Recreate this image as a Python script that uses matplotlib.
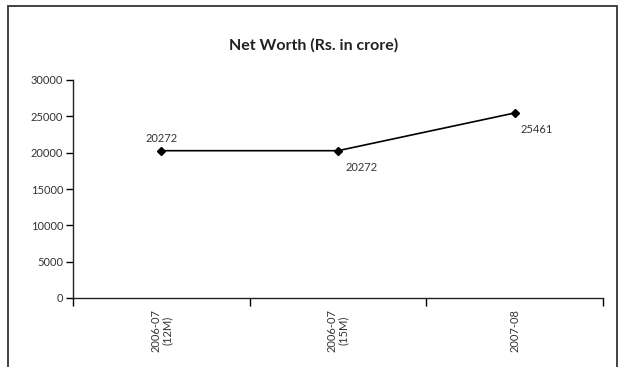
import matplotlib.pyplot as plt
from matplotlib.patches import Rectangle

# Net worth by period (Rs. in crore)
periods = ["2006-07\n(12M)", "2006-07\n(15M)", "2007-08"]
net_worth = [20272, 20272, 25461]
y_ticks = [0, 5000, 10000, 15000, 20000, 25000, 30000]

plt.rcParams["font.family"] = ["Lato", "DejaVu Sans"]

fig = plt.figure(figsize=(6.21, 3.67), dpi=100)
ax = fig.add_axes([73 / 621, 1 - 298 / 367, 530 / 621, 218 / 367])

xpos = [i + 0.5 for i in range(len(periods))]
ax.plot(xpos, net_worth, color="black", lw=1.2, marker="D", ms=4.5, mfc="black", mec="black")

# value labels: first above the point, the others below-right
offsets = [(0, 5, "center", "bottom"), (17, -8, "center", "top"), (16, -8, "center", "top")]
for x, v, (dx, dy, ha, va) in zip(xpos, net_worth, offsets):
    ax.annotate(f"{v}", (x, v), xytext=(dx, dy), textcoords="offset points",
                ha=ha, va=va, fontsize=8, color="#333333")

ax.set_xlim(0, len(periods))
ax.set_ylim(0, 30000)
ax.set_yticks(y_ticks)
ax.set_yticklabels([str(t) for t in y_ticks], fontsize=8, color="#333333")

ax.set_xticks(range(len(periods) + 1))
ax.set_xticklabels([])
ax.set_xticks(xpos, minor=True)
ax.set_xticklabels(periods, minor=True, rotation=90, fontsize=8, color="#333333",
                   va="top", ha="center", linespacing=1.0)
ax.tick_params(axis="x", which="major", length=6, width=1, direction="out")
ax.tick_params(axis="x", which="minor", length=0, pad=8)
ax.tick_params(axis="y", length=5, width=1, pad=2)

for side in ["top", "right"]:
    ax.spines[side].set_visible(False)
for side in ["left", "bottom"]:
    ax.spines[side].set_linewidth(1.0)
    ax.spines[side].set_color("#222222")

fig.text(314 / 621, 1 - 45 / 367, "Net Worth (Rs. in crore)", ha="center", va="center",
         fontsize=11.5, fontweight="bold", color="#222222")

# outer frame, open at the bottom
fig.patches.append(Rectangle((8 / 621, -0.05), 609 / 621, 1 - 6 / 367 + 0.05,
                             transform=fig.transFigure, fill=False, lw=1.3,
                             edgecolor="#333333"))

fig.savefig("out.png", dpi=100, facecolor="white")
